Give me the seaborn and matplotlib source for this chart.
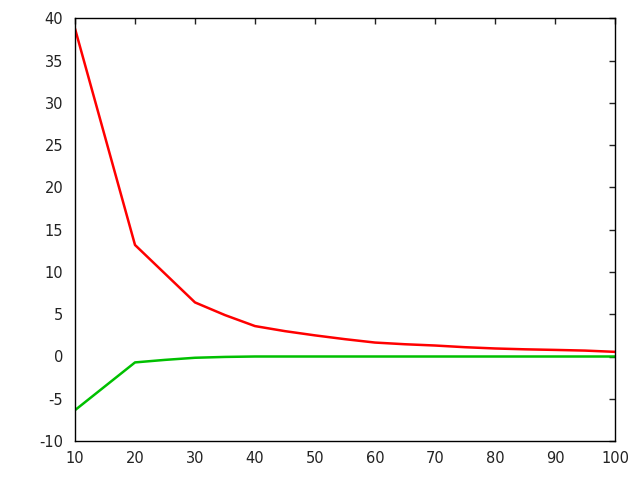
import matplotlib
matplotlib.use("Agg")
import matplotlib.pyplot as plt
import seaborn as sns
import pandas as pd

x_red = [10, 20, 25, 30, 35, 40, 45, 50, 55, 60, 65, 70, 75, 80, 85, 90, 95, 100]
y_red = [38.8, 13.2, 9.8, 6.4, 4.9, 3.6, 3.0, 2.5, 2.05, 1.65, 1.45, 1.3, 1.1, 0.95, 0.85, 0.78, 0.7, 0.55]
x_green = [10, 20, 25, 30, 35, 40, 50, 60, 70, 80, 90, 100]
y_green = [-6.35, -0.7, -0.4, -0.15, -0.05, 0.0, 0.0, 0.0, 0.0, 0.0, 0.0, 0.0]

df = pd.concat([
    pd.DataFrame({"x": x_red, "y": y_red, "s": "red"}),
    pd.DataFrame({"x": x_green, "y": y_green, "s": "green"}),
])

sns.set_style("white")
plt.rcParams['font.family'] = ['DejaVu Sans']
plt.rcParams['axes.unicode_minus'] = False

fig = plt.figure(figsize=(6.4, 4.8), dpi=100)
ax = fig.add_axes([75/640, 39/480, 540/640, 422.5/480])
sns.lineplot(data=df, x="x", y="y", hue="s", palette={"red": "#ff0000", "green": "#00c000"},
             linewidth=1.8, ax=ax, legend=False, estimator=None, sort=False)
ax.set_xlim(10, 100)
ax.set_ylim(-10, 40)
ax.set_xticks(range(10, 101, 10))
ax.set_yticks(range(-10, 41, 5))
ax.set_xlabel("")
ax.set_ylabel("")
for sp in ax.spines.values():
    sp.set_visible(True)
    sp.set_color("black")
    sp.set_linewidth(1.0)
ax.tick_params(direction="in", length=4.5, width=1, top=True, right=True,
               labelsize=10.5, colors="#222222", pad=8.5)
ax.tick_params(axis="x", pad=7.5)
fig.savefig("out.png", dpi=100)
